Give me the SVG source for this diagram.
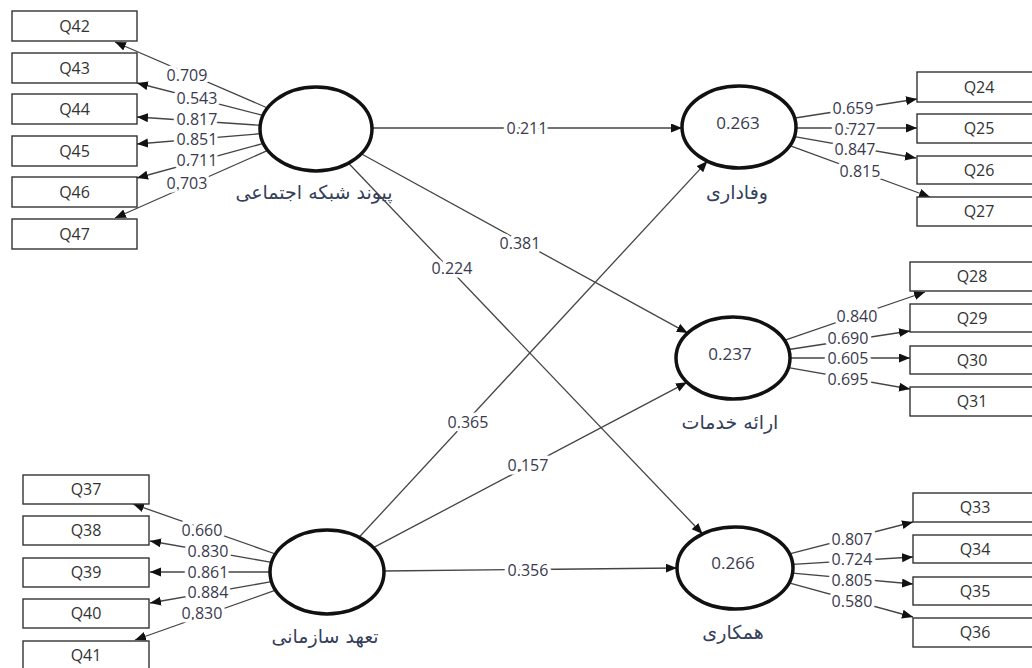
<svg xmlns="http://www.w3.org/2000/svg" width="1032" height="668" viewBox="0 0 1032 668">
<defs>
<marker id="ah" markerUnits="userSpaceOnUse" markerWidth="12" markerHeight="10" refX="11" refY="4.5" orient="auto">
<path d="M0,0 L11,4.5 L0,9 z" fill="#111"/>
</marker>
<style>
.box{fill:#fff;stroke:#333;stroke-width:1.4}
.lv{fill:#fff;stroke:#111;stroke-width:3.5}
.ln{stroke:#444;stroke-width:1.3;fill:none;marker-end:url(#ah)}
.q{font-family:"Open Sans","DejaVu Sans",sans-serif;font-size:16px;fill:#333;text-anchor:middle}
.n{font-family:"Open Sans","DejaVu Sans",sans-serif;font-size:16px;fill:#3a3a4e;text-anchor:middle;stroke:#fff;stroke-width:7;paint-order:stroke;stroke-linejoin:round}
.r{font-family:"Open Sans","DejaVu Sans",sans-serif;font-size:17px;fill:#3a3a4e;text-anchor:middle}
.fa{font-family:"DejaVu Sans","Noto Sans",sans-serif;font-size:19px;fill:#34405a;text-anchor:middle}
</style>
</defs>
<rect width="1032" height="668" fill="#fff"/>

<g id="connectors">
<line class="ln" x1="267.5" y1="108" x2="115" y2="42"/>
<line class="ln" x1="263" y1="115.4" x2="137" y2="83"/>
<line class="ln" x1="260.2" y1="125.3" x2="137" y2="117"/>
<line class="ln" x1="260.3" y1="133.7" x2="137" y2="144"/>
<line class="ln" x1="263.4" y1="143.4" x2="137" y2="178"/>
<line class="ln" x1="267.8" y1="150.4" x2="115" y2="218"/>

<line class="ln" x1="795" y1="118" x2="917" y2="99"/>
<line class="ln" x1="796" y1="128" x2="917" y2="128"/>
<line class="ln" x1="794.4" y1="136.7" x2="916" y2="158"/>
<line class="ln" x1="789.8" y1="145.6" x2="930" y2="197"/>

<line class="ln" x1="784.4" y1="340.3" x2="925" y2="292"/>
<line class="ln" x1="788.8" y1="349.5" x2="910" y2="331"/>
<line class="ln" x1="790" y1="358" x2="910" y2="358"/>
<line class="ln" x1="788.4" y1="367.7" x2="910" y2="389"/>

<line class="ln" x1="789.5" y1="553.9" x2="913" y2="522"/>
<line class="ln" x1="792.8" y1="564.4" x2="913" y2="557"/>
<line class="ln" x1="792.5" y1="573.2" x2="913" y2="584"/>
<line class="ln" x1="789" y1="582.9" x2="913" y2="617"/>

<line class="ln" x1="275.5" y1="554" x2="133" y2="504"/>
<line class="ln" x1="271.5" y1="562.3" x2="150" y2="541"/>
<line class="ln" x1="270" y1="572" x2="150" y2="572"/>
<line class="ln" x1="271.5" y1="581.7" x2="150" y2="603"/>
<line class="ln" x1="275.6" y1="590.2" x2="135" y2="640"/>

<line class="ln" x1="372" y1="128" x2="682" y2="128"/>
<line class="ln" x1="361.2" y1="153.8" x2="687.7" y2="333.1"/>
<line class="ln" x1="348.6" y1="163.2" x2="702.6" y2="534"/>
<line class="ln" x1="359.1" y1="537.3" x2="707.4" y2="161.1"/>
<line class="ln" x1="373.4" y1="547.6" x2="687" y2="382.3"/>
<line class="ln" x1="384" y1="571" x2="677" y2="568"/>

<text class="n" x="187" y="81">0.709</text>
<text class="n" x="197" y="104">0.543</text>
<text class="n" x="197" y="125">0.817</text>
<text class="n" x="197" y="145">0.851</text>
<text class="n" x="197" y="166">0.711</text>
<text class="n" x="187" y="189">0.703</text>

<text class="n" x="853" y="114">0.659</text>
<text class="n" x="855" y="135">0.727</text>
<text class="n" x="855" y="155">0.847</text>
<text class="n" x="860" y="177">0.815</text>

<text class="n" x="857" y="322">0.840</text>
<text class="n" x="848" y="344">0.690</text>
<text class="n" x="848" y="364">0.605</text>
<text class="n" x="848" y="385">0.695</text>

<text class="n" x="852" y="545">0.807</text>
<text class="n" x="852" y="565">0.724</text>
<text class="n" x="852" y="586">0.805</text>
<text class="n" x="852" y="607">0.580</text>

<text class="n" x="202" y="536">0.660</text>
<text class="n" x="208" y="557">0.830</text>
<text class="n" x="208" y="578">0.861</text>
<text class="n" x="208" y="598">0.884</text>
<text class="n" x="202" y="619">0.830</text>

<text class="n" x="527" y="134">0.211</text>
<text class="n" x="520" y="249">0.381</text>
<text class="n" x="452" y="274">0.224</text>
<text class="n" x="468" y="428">0.365</text>
<text class="n" x="528" y="471">0.157</text>
<text class="n" x="528" y="576">0.356</text>
</g>

<g id="Q42"><rect class="box" x="12" y="11" width="125" height="30"/><text class="q" x="74.5" y="32">Q42</text></g>
<g id="Q43"><rect class="box" x="12" y="53" width="125" height="30"/><text class="q" x="74.5" y="74">Q43</text></g>
<g id="Q44"><rect class="box" x="12" y="94" width="125" height="30"/><text class="q" x="74.5" y="115">Q44</text></g>
<g id="Q45"><rect class="box" x="12" y="136" width="125" height="30"/><text class="q" x="74.5" y="157">Q45</text></g>
<g id="Q46"><rect class="box" x="12" y="177" width="125" height="30"/><text class="q" x="74.5" y="198">Q46</text></g>
<g id="Q47"><rect class="box" x="12" y="219" width="125" height="30"/><text class="q" x="74.5" y="240">Q47</text></g>

<g id="Q37"><rect class="box" x="23" y="475" width="126" height="29"/><text class="q" x="86" y="495">Q37</text></g>
<g id="Q38"><rect class="box" x="23" y="516" width="126" height="29"/><text class="q" x="86" y="536">Q38</text></g>
<g id="Q39"><rect class="box" x="23" y="558" width="126" height="29"/><text class="q" x="86" y="578">Q39</text></g>
<g id="Q40"><rect class="box" x="23" y="599" width="126" height="29"/><text class="q" x="86" y="619">Q40</text></g>
<g id="Q41"><rect class="box" x="23" y="641" width="126" height="29"/><text class="q" x="86" y="661">Q41</text></g>

<g id="Q24"><rect class="box" x="917" y="72" width="125" height="30"/><text class="q" x="979" y="93">Q24</text></g>
<g id="Q25"><rect class="box" x="917" y="114" width="125" height="29"/><text class="q" x="979" y="134">Q25</text></g>
<g id="Q26"><rect class="box" x="917" y="156" width="125" height="28"/><text class="q" x="979" y="176">Q26</text></g>
<g id="Q27"><rect class="box" x="917" y="197" width="125" height="29"/><text class="q" x="979" y="217">Q27</text></g>

<g id="Q28"><rect class="box" x="910" y="262" width="125" height="29"/><text class="q" x="972" y="282">Q28</text></g>
<g id="Q29"><rect class="box" x="910" y="304" width="125" height="28"/><text class="q" x="972" y="324">Q29</text></g>
<g id="Q30"><rect class="box" x="910" y="346" width="125" height="28"/><text class="q" x="972" y="366">Q30</text></g>
<g id="Q31"><rect class="box" x="910" y="387" width="125" height="29"/><text class="q" x="972" y="407">Q31</text></g>

<g id="Q33"><rect class="box" x="913" y="493" width="125" height="29"/><text class="q" x="975" y="513">Q33</text></g>
<g id="Q34"><rect class="box" x="913" y="535" width="125" height="28"/><text class="q" x="975" y="555">Q34</text></g>
<g id="Q35"><rect class="box" x="913" y="577" width="125" height="28"/><text class="q" x="975" y="597">Q35</text></g>
<g id="Q36"><rect class="box" x="913" y="618" width="125" height="29"/><text class="q" x="975" y="638">Q36</text></g>

<g id="social-network"><ellipse class="lv" cx="316" cy="129" rx="56" ry="42"/><text class="fa" x="314" y="199">پیوند شبکه اجتماعی</text></g>
<g id="org-commitment"><ellipse class="lv" cx="327" cy="572" rx="57" ry="42"/><text class="fa" x="325" y="643">تعهد سازمانی</text></g>
<g id="loyalty"><ellipse class="lv" cx="739" cy="127" rx="57" ry="41"/><text class="r" x="738" y="129">0.263</text><text class="fa" x="737" y="199">وفاداری</text></g>
<g id="service"><ellipse class="lv" cx="733" cy="358" rx="57" ry="41"/><text class="r" x="730" y="360">0.237</text><text class="fa" x="730" y="429">ارائه خدمات</text></g>
<g id="cooperation"><ellipse class="lv" cx="735" cy="568" rx="58" ry="41"/><text class="r" x="733" y="569">0.266</text><text class="fa" x="733" y="639">همکاری</text></g>
</svg>
